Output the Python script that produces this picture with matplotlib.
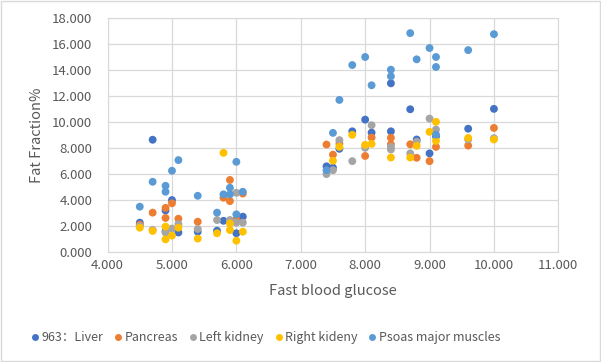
import matplotlib.pyplot as plt
from matplotlib.lines import Line2D
from matplotlib.patches import Rectangle
from matplotlib.ticker import FormatStrFormatter, MultipleLocator

plt.rcParams['font.family'] = ['Noto Sans CJK SC', 'DejaVu Sans']

# Liver
liver_x = [4.5, 4.7, 4.9, 4.9, 5.0, 5.1, 5.4, 5.7, 5.8, 6.0, 6.1, 7.4, 7.5, 7.6,
           7.8, 8.0, 8.1, 8.4, 8.4, 8.7, 8.8, 9.0, 9.1, 9.6, 10.0]
liver_y = [2.26, 8.65, 3.2, 1.6, 4.0, 1.5, 1.56, 1.64, 2.4, 1.44, 2.72, 6.6, 6.5, 7.95,
           9.3, 10.2, 9.2, 13.0, 9.3, 11.0, 8.67, 7.6, 8.9, 9.5, 11.03]

# Pancreas
pancreas_x = [4.5, 4.7, 4.9, 4.9, 5.0, 5.1, 5.4, 5.8, 5.9, 5.9, 6.0, 6.1, 7.4, 7.5,
              7.6, 8.0, 8.1, 8.4, 8.4, 8.7, 8.8, 9.0, 9.1, 9.6, 10.0]
pancreas_y = [2.1, 3.03, 3.4, 2.62, 3.75, 2.56, 2.33, 4.18, 5.55, 3.92, 2.5, 4.5, 8.28, 7.5,
              8.36, 7.4, 8.82, 8.8, 8.3, 8.3, 7.26, 7.0, 8.1, 8.2, 9.56]

# Left kidney
lkid_x = [4.5, 4.7, 4.9, 5.0, 5.1, 5.4, 5.7, 5.9, 6.0, 6.0, 6.1, 7.4, 7.5, 7.6,
          7.8, 8.0, 8.1, 8.4, 8.4, 8.7, 8.8, 9.0, 9.1, 9.6, 10.0]
lkid_y = [2.0, 1.7, 1.5, 1.8, 2.15, 1.77, 2.46, 2.46, 4.56, 2.26, 2.26, 6.0, 6.3, 8.62,
          7.0, 8.03, 9.77, 8.1, 7.9, 7.6, 8.5, 10.28, 9.44, 8.67, 8.77]

# Right kidney
rkid_x = [4.5, 4.7, 4.9, 4.9, 5.0, 5.1, 5.4, 5.7, 5.8, 5.9, 5.9, 6.0, 6.1, 7.5,
          7.6, 7.8, 8.0, 8.1, 8.4, 8.7, 8.8, 9.0, 9.1, 9.1, 9.6, 10.0]
rkid_y = [1.87, 1.62, 1.95, 0.97, 1.26, 1.87, 1.03, 1.44, 7.64, 2.2, 1.69, 0.87, 1.56, 7.03,
          8.1, 9.03, 8.26, 8.33, 7.28, 7.28, 8.18, 9.26, 10.03, 8.56, 8.79, 8.67]

# Psoas major muscles
psoas_x = [4.5, 4.7, 4.9, 4.9, 5.0, 5.1, 5.4, 5.7, 5.8, 5.9, 5.9, 6.0, 6.0, 6.1, 7.4,
           7.5, 7.6, 7.8, 8.0, 8.1, 8.4, 8.4, 8.7, 8.8, 9.0, 9.1, 9.1, 9.1, 9.6, 10.0]
psoas_y = [3.49, 5.41, 5.1, 4.64, 6.26, 7.08, 4.33, 3.03, 4.44, 4.95, 4.44, 6.95, 2.9, 4.64, 6.3,
           9.18, 11.72, 14.41, 15.03, 12.85, 14.05, 13.54, 16.87, 14.85, 15.72, 15.03, 14.26,
           9.05, 15.56, 16.79]

series = [
    ('963：Liver', liver_x, liver_y, '#4472C4'),
    ('Pancreas', pancreas_x, pancreas_y, '#ED7D31'),
    ('Left kidney', lkid_x, lkid_y, '#A5A5A5'),
    ('Right kideny', rkid_x, rkid_y, '#FFC000'),
    ('Psoas major muscles', psoas_x, psoas_y, '#5B9BD5'),
]

fig = plt.figure(figsize=(6.01, 3.62), dpi=100)
fig.patches.append(Rectangle((0.001, 0.002), 0.997, 0.995, transform=fig.transFigure,
                             fill=False, edgecolor='#D9D9D9', linewidth=1))
ax = fig.add_axes([0.179, 0.304, 0.750, 0.645])

for name, xs, ys, c in series:
    ax.scatter(xs, ys, s=32, color=c, edgecolors='none', zorder=3)

ax.set_xlim(4, 11)
ax.set_ylim(0, 18)
ax.xaxis.set_major_locator(MultipleLocator(1))
ax.yaxis.set_major_locator(MultipleLocator(2))
ax.xaxis.set_major_formatter(FormatStrFormatter('%.3f'))
ax.yaxis.set_major_formatter(FormatStrFormatter('%.3f'))
ax.grid(True, color='#D9D9D9', linewidth=0.9, zorder=0)
for sp in ax.spines.values():
    sp.set_color('#D9D9D9')
ax.tick_params(length=0, colors='#595959', labelsize=9.5)
ax.tick_params(axis='x', pad=5)
ax.tick_params(axis='y', pad=11)

ax.set_xlabel('Fast blood glucose', fontsize=10.5, color='#595959', labelpad=9)
ax.set_ylabel('Fat Fraction%', fontsize=10.5, color='#595959', labelpad=6)

handles = [Line2D([], [], marker='o', linestyle='none', markersize=5,
                  markerfacecolor=c, markeredgecolor='none') for _, _, _, c in series]
labels = [s[0] for s in series]
fig.legend(handles, labels, loc='center', bbox_to_anchor=(0.44, 0.068), ncol=5,
           frameon=False, fontsize=9, labelcolor='#595959', handletextpad=0.0,
           columnspacing=0.7, handlelength=1.0)

fig.savefig('out.png', dpi=100)
